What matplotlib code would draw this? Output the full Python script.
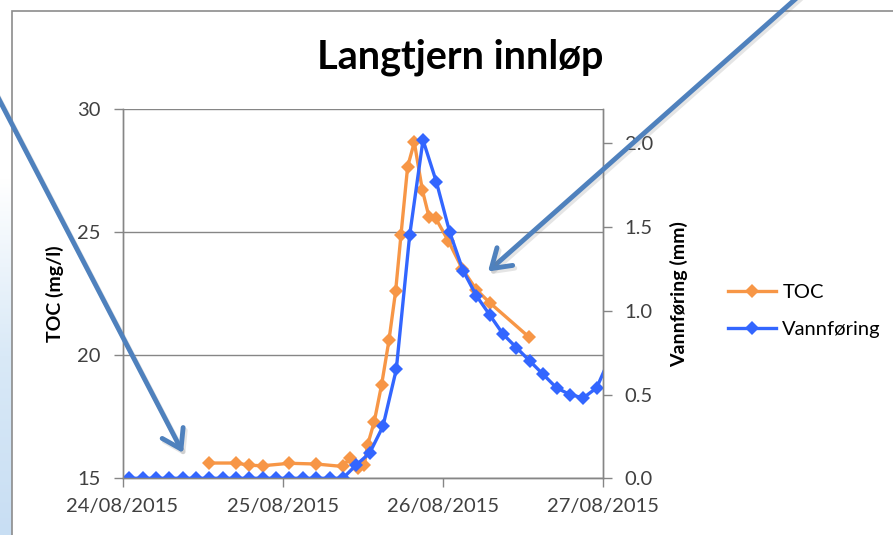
import numpy as np
import pandas as pd
import matplotlib
matplotlib.use("Agg")
import matplotlib.pyplot as plt
import matplotlib.dates as mdates
import matplotlib.patheffects as pe
from matplotlib.patches import Rectangle
from matplotlib.lines import Line2D

# Data lest av figuren (timer etter 24/08/2015 00:00)
START = pd.Timestamp("2015-08-24")
toc_hours = [12.9, 17, 19, 21, 25, 29, 33, 34, 35.2, 36.2, 36.7, 37.7, 38.8, 39.9,
             40.9, 41.7, 42.7, 43.7, 44.9, 45.9, 46.9, 48.8, 50.9, 53.0, 55.0, 60.9]
toc_mgl = [15.62, 15.62, 15.53, 15.51, 15.61, 15.58, 15.48, 15.81, 15.41, 15.54,
           16.35, 17.3, 18.8, 20.6, 22.6, 24.88, 27.66, 28.65, 26.71, 25.62,
           25.56, 24.64, 23.5, 22.66, 22.13, 20.73]
flow_hours = [1, 3, 5, 7, 9, 11, 13, 15, 17, 19, 21, 23, 25, 27, 29, 31, 33,
              35, 37, 39, 41, 43, 45, 47, 49, 51, 53, 55, 57, 59, 61, 63, 65,
              67, 69, 71, 73]
flow_mm = [0, 0, 0, 0, 0, 0, 0, 0, 0, 0, 0, 0, 0, 0, 0, 0, 0,
           0.08, 0.15, 0.31, 0.65, 1.45, 2.02, 1.77, 1.47, 1.24, 1.09, 0.975,
           0.86, 0.78, 0.70, 0.62, 0.54, 0.50, 0.48, 0.54, 0.72]

toc_t = START + pd.to_timedelta(toc_hours, unit="h")
flow_t = START + pd.to_timedelta(flow_hours, unit="h")

ORANGE = "#F79646"
BLUE = "#3366FF"
GRID = "#868686"
TXT = "#404040"
ARROW = "#4F81BD"
MS = 7.3
LW = 2.4

plt.rcParams["font.family"] = ["Lato", "DejaVu Sans"]

W, H = 893, 535
fig = plt.figure(figsize=(W / 100, H / 100), dpi=100)

# bakgrunn til venstre (lysblå gradient) + diagramramme
bg = fig.add_axes([0, 0, 12 / W, 1], zorder=-20)
grad = np.linspace(0, 1, 256).reshape(-1, 1)
bg.imshow(grad, aspect="auto", extent=[0, 1, 0, 1], origin="upper",
          cmap=matplotlib.colors.LinearSegmentedColormap.from_list(
              "bg", ["#ffffff", "#ffffff", "#d9e9f7", "#c8def3"]))
bg.axis("off")
frame = Rectangle((12 / W, -0.1), 1.2, 1 - 11 / H + 0.1, transform=fig.transFigure,
                  facecolor="white", edgecolor="#8c8c8c", lw=1.2, zorder=-10)
fig.add_artist(frame)

ax = fig.add_axes([122.5 / W, (H - 478.3) / H, (603.3 - 122.5) / W, (478.3 - 109) / H])
ax2 = ax.twinx()

ax.plot(toc_t, toc_mgl, color=ORANGE, lw=LW, marker="D", ms=MS, mew=0, label="TOC")
ax2.plot(flow_t, flow_mm, color=BLUE, lw=LW, marker="D", ms=MS, mew=0, label="Vannføring")

ax.set_xlim(pd.Timestamp("2015-08-24"), pd.Timestamp("2015-08-27"))
ax.set_ylim(15, 30)
ax.set_yticks([15, 20, 25, 30])
ax2.set_ylim(0, 2.205)
ax2.set_yticks([0.0, 0.5, 1.0, 1.5, 2.0])
ax2.yaxis.set_major_formatter(matplotlib.ticker.FormatStrFormatter("%.1f"))
ax.xaxis.set_major_locator(mdates.DayLocator())
ax.xaxis.set_major_formatter(mdates.DateFormatter("%d/%m/%Y"))

ax.grid(axis="y", color=GRID, lw=1)
for a in (ax, ax2):
    for s in a.spines.values():
        s.set_color(GRID)
        s.set_linewidth(1)
    a.spines["top"].set_visible(False)
    a.tick_params(colors=GRID, labelcolor=TXT, labelsize=14.5, length=6.5, width=1, direction="out")
ax.tick_params(axis="y", pad=9)
ax.tick_params(axis="x", pad=8)
ax2.tick_params(axis="y", pad=9)

ax.set_ylabel("TOC (mg/l)", fontsize=14, fontweight="bold", va="center")
ax.yaxis.set_label_coords((55 - 122.5) / 480.8, 0.5)
ax2.set_ylabel("Vannføring (mm)", fontsize=14, fontweight="bold", va="center")
ax2.yaxis.set_label_coords((679 - 122.5) / 480.8, 0.5)

fig.text(460 / W, 1 - 57 / H, "Langtjern innløp", ha="center", va="center",
         fontsize=28.5, fontweight="bold")

handles = [Line2D([], [], color=ORANGE, lw=LW, marker="D", ms=MS, mew=0),
           Line2D([], [], color=BLUE, lw=LW, marker="D", ms=MS, mew=0)]
ax2.legend(handles, ["TOC", "Vannføring"], loc="center left",
           bbox_to_anchor=(728 / W, 1 - 311 / H), bbox_transform=fig.transFigure,
           frameon=False, fontsize=14.5, handlelength=2.4, handletextpad=0.3,
           labelspacing=0.95, borderpad=0, borderaxespad=0)

# blå piler fra lysbildet (tegnes over seriene)
shadow = [pe.SimpleLineShadow(offset=(1.5, -2), shadow_color="#7f7f7f", alpha=0.2), pe.Normal()]
arrow_kw = dict(arrowstyle="->,head_length=13,head_width=8.5", color=ARROW, lw=3.5,
                mutation_scale=1, shrinkA=0, shrinkB=0)
a1 = ax2.annotate("", xy=(mdates.date2num(pd.Timestamp("2015-08-24 09:04")), 16.03),
                  xycoords=ax.transData,
                  xytext=(-10, H - 82), textcoords="figure pixels",
                  arrowprops=arrow_kw, annotation_clip=False)
a2 = ax2.annotate("", xy=(mdates.date2num(pd.Timestamp("2015-08-26 06:44")), 23.4),
                  xycoords=ax.transData,
                  xytext=(800, H + 5), textcoords="figure pixels",
                  arrowprops=arrow_kw, annotation_clip=False)
for a in (a1, a2):
    a.arrow_patch.set_path_effects(shadow)
    a.set_zorder(10)

fig.savefig("out.png", dpi=100)
